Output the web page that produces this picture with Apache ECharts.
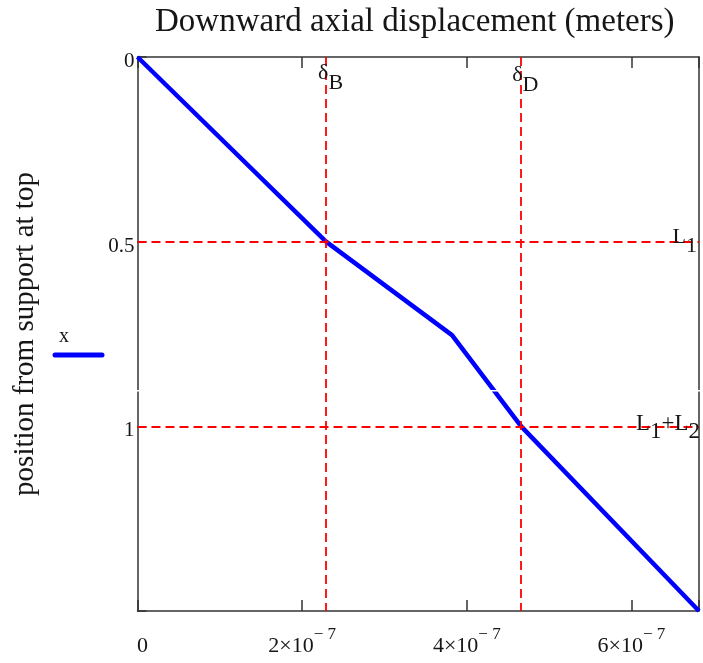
<!DOCTYPE html>
<html>
<head>
<meta charset="utf-8">
<script src="https://cdn.jsdelivr.net/npm/echarts@6/dist/echarts.min.js"></script>
<style>
html,body{margin:0;padding:0;background:#fff;}
#chart{width:703px;height:663px;}
</style>
</head>
<body>
<div id="chart"></div>
<script>
// ---- data ----
var titleText = 'Downward axial displacement (meters)';
var yAxisName = 'position from support at top';
var legendName = 'x';
// displacement (m) vs position from support at top (m)
var displacement = [0, 2.29e-7, 3.82e-7, 4.66e-7, 6.82e-7];
var position     = [0, 0.5,     0.753,   1.0,     1.5];
var xMin = 0, xMax = 6.82e-7, xInterval = 2e-7;
var yMin = 0, yMax = 1.5, yInterval = 0.5;
var xTickValues = [0, 2e-7, 4e-7, 6e-7];
var xTickMantissa = ['0', '2×10', '4×10', '6×10'];
var xTickExponent = ['', '− 7', '− 7', '− 7'];
var yTickValues = [0, 0.5, 1];
var yTickLabels = ['0', '0.5', '1'];
// marker lines
var deltaB = 2.29e-7, deltaD = 4.66e-7;
var L1 = 0.5, L1L2 = 1.0;
// marker label texts: pieces [text, isSubscript]
var labelDeltaB = [['δ', 0], ['B', 1]];
var labelDeltaD = [['δ', 0], ['D', 1]];
var labelL1 = [['L', 0], ['1', 1]];
var labelL1L2 = [['L', 0], ['1', 1], ['+L', 0], ['2', 1]];

var serif = '"Liberation Serif", "DejaVu Serif", serif';
var txt = '#161616';

var chart = echarts.init(document.getElementById('chart'), null, {renderer: 'canvas'});

var lineData = displacement.map(function (d, i) { return [d, position[i]]; });

function xLabel(v) {
  for (var i = 0; i < xTickValues.length; i++) {
    if (Math.abs(v - xTickValues[i]) < 1e-9) {
      if (i === 0) return '{z|' + xTickMantissa[i] + '}';
      return '{m|' + xTickMantissa[i] + '}{p|' + xTickExponent[i] + '}';
    }
  }
  return '';
}
function yLabel(v) {
  for (var i = 0; i < yTickValues.length; i++) {
    if (Math.abs(v - yTickValues[i]) < 1e-6) return yTickLabels[i];
  }
  return '';
}

// measure text widths for composing subscripts
var measureCtx = document.createElement('canvas').getContext('2d');
function textWidth(t, size) {
  measureCtx.font = size + 'px ' + serif;
  return measureCtx.measureText(t).width;
}
// build scatter items (one per text piece) anchored at a data point
function pieceItems(coord, pieces, size, drop, anchor, dx, dy) {
  var total = 0;
  pieces.forEach(function (p) { total += textWidth(p[0], size); });
  var x = anchor === 'right' ? dx - total : dx;
  var items = [];
  pieces.forEach(function (p) {
    items.push({
      value: coord,
      label: {
        show: true, formatter: p[0], position: [x, dy + (p[1] ? drop : 0)],
        align: 'left', verticalAlign: 'top',
        color: txt, fontFamily: serif, fontSize: size, lineHeight: size, opacity: 1
      }
    });
    x += textWidth(p[0], size);
  });
  return items;
}

var labelItems = []
  .concat(pieceItems([deltaB, 0], labelDeltaB, 22, 10, 'left', -8, 5))
  .concat(pieceItems([deltaD, 0], labelDeltaD, 22, 10, 'left', -9, 7))
  .concat(pieceItems([xMax, L1], labelL1, 22, 9, 'right', -2, -15))
  .concat(pieceItems([xMax, L1L2], labelL1L2, 23, 8, 'right', 1, -14));

var axisLineStyle = {color: '#333', width: 1.5};

var option = {
  backgroundColor: '#fff',
  animation: false,
  title: {
    text: titleText,
    left: 155, top: 6, padding: 0,
    textStyle: {fontFamily: serif, fontSize: 33, fontWeight: 'normal', color: txt}
  },
  grid: {left: 137.5, right: 4, top: 57, bottom: 52, containLabel: false},
  xAxis: [{
    type: 'value', position: 'bottom',
    min: xMin, max: xMax, interval: xInterval,
    axisLine: {show: true, onZero: false, lineStyle: axisLineStyle},
    axisTick: {show: true, inside: true, length: 11, lineStyle: {color: '#333', width: 1.5}},
    splitLine: {show: false},
    axisLabel: {
      margin: 15, formatter: xLabel, color: txt,
      rich: {
        m: {fontFamily: serif, fontSize: 22, color: txt, padding: [9, 0, 0, 0], verticalAlign: 'bottom'},
        z: {fontFamily: serif, fontSize: 22, color: txt, padding: [9, 0, 0, 10], verticalAlign: 'bottom'},
        p: {fontFamily: serif, fontSize: 17, color: txt, verticalAlign: 'top', lineHeight: 17}
      }
    }
  }, {
    type: 'value', position: 'top',
    min: xMin, max: xMax, interval: xInterval,
    axisLine: {show: true, onZero: false, lineStyle: axisLineStyle},
    axisTick: {show: true, inside: true, length: 11, lineStyle: {color: '#333', width: 1.5}},
    splitLine: {show: false},
    axisLabel: {show: false}
  }],
  yAxis: [{
    type: 'value', position: 'left', inverse: true,
    min: yMin, max: yMax, interval: yInterval,
    name: yAxisName, nameLocation: 'middle', nameRotate: 90, nameGap: 98,
    nameTextStyle: {fontFamily: serif, fontSize: 29, color: txt},
    axisLine: {show: true, onZero: false, lineStyle: axisLineStyle},
    axisTick: {show: true, inside: true, length: 9, lineStyle: {color: '#333', width: 1.5}},
    splitLine: {show: false},
    axisLabel: {
      margin: 3, formatter: yLabel, color: txt,
      fontFamily: serif, fontSize: 21, verticalAlign: 'top', lineHeight: 9
    }
  }, {
    type: 'value', position: 'right', inverse: true,
    min: yMin, max: yMax, interval: yInterval,
    axisLine: {show: true, onZero: false, lineStyle: axisLineStyle},
    axisTick: {show: false}, axisLabel: {show: false}, splitLine: {show: false}
  }],
  series: [{
    name: legendName,
    type: 'line',
    xAxisIndex: 0, yAxisIndex: 0,
    data: lineData,
    showSymbol: false, symbol: 'none',
    lineStyle: {color: '#0000ff', width: 4.5},
    z: 3
  }, {
    name: 'markers',
    type: 'line',
    xAxisIndex: 0, yAxisIndex: 0,
    data: [],
    z: 4,
    markLine: {
      silent: true, symbol: ['none', 'none'], precision: 15,
      label: {show: false},
      lineStyle: {color: '#ff0000', width: 1.8, type: [9, 5], opacity: 1},
      emphasis: {disabled: true},
      data: [{xAxis: deltaB}, {xAxis: deltaD}, {yAxis: L1}, {yAxis: L1L2}]
    }
  }, {
    name: 'labels',
    type: 'scatter',
    xAxisIndex: 0, yAxisIndex: 0,
    symbolSize: 0.01,
    itemStyle: {opacity: 0},
    silent: true,
    z: 5,
    data: labelItems
  }],
  graphic: [
    {type: 'text', left: 59, top: 327, style: {text: legendName, font: '20px ' + serif, fill: txt}},
    {type: 'line', shape: {x1: 55, y1: 355, x2: 102, y2: 355}, style: {stroke: '#0000ff', lineWidth: 5, lineCap: 'round'}},
    {type: 'rect', shape: {x: 125, y: 390, width: 578, height: 1.5}, style: {fill: '#ffffff'}, z: 100}
  ]
};
chart.setOption(option);
</script>
</body>
</html>
